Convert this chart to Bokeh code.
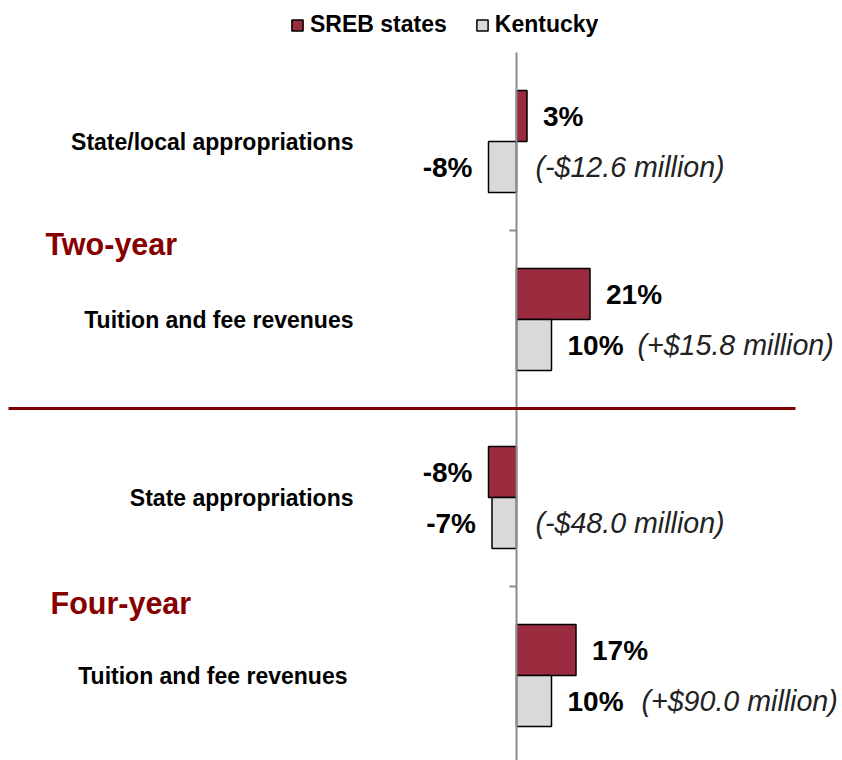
from bokeh.plotting import figure
from bokeh.models import Range1d, ColumnDataSource, Legend, LegendItem
from bokeh.core.properties import value
from bokeh.embed import file_html
from bokeh.resources import INLINE

# ---- data ----
categories = ["State/local appropriations", "Tuition and fee revenues",
              "State appropriations", "Tuition and fee revenues"]
groups = ["Two-year", "Four-year"]
group_pos = [0.5, 2.5]
sreb = [3, 21, -8, 17]
kentucky = [-8, 10, -7, 10]
sreb_labels = ["3%", "21%", "-8%", "17%"]
ky_labels = ["-8%", "10%", "-7%", "10%"]
ky_dollars = ["(-$12.6 million)", "(+$15.8 million)", "(-$48.0 million)", "(+$90.0 million)"]

FONT_NAME = "Liberation Sans"
FONT = value(FONT_NAME)
SREB_COLOR = "#9B2C3F"
KY_COLOR = "#D9D9D9"
DARK_RED = "#860000"

W, H = 842, 760
PX = 3.5          # px per percent
AX = 516          # canvas x of zero line
Y0 = 141          # canvas y of first category centre
BAND = 178        # px per category
bh = 51 / BAND    # bar thickness in category units

p = figure(width=W, height=H,
           x_range=Range1d(-AX / PX, (W - AX) / PX),
           y_range=Range1d((H - Y0) / BAND, -Y0 / BAND),
           output_backend="svg", toolbar_location=None, min_border=0)
p.axis.visible = False
p.grid.visible = False
p.outline_line_color = None
p.background_fill_color = "white"

idx = list(range(len(categories)))
ys_sreb = [i - bh / 2 for i in idx]
ys_ky = [i + bh / 2 for i in idx]

src_s = ColumnDataSource(dict(y=ys_sreb, v=sreb, lab=sreb_labels))
src_k = ColumnDataSource(dict(y=ys_ky, v=kentucky, lab=ky_labels, dol=ky_dollars))

r_s = p.hbar(y="y", left=0, right="v", height=bh, source=src_s,
             fill_color=SREB_COLOR, line_color="black", line_width=1.5)
r_k = p.hbar(y="y", left=0, right="v", height=bh, source=src_k,
             fill_color=KY_COLOR, line_color="black", line_width=1.5)

# zero axis line and ticks
p.segment(x0=[0], y0=[-0.5], x1=[0], y1=[len(categories) - 0.5],
          line_color="#8C8C8C", line_width=2)
bounds = [i + 0.5 for i in idx[:-1]]
p.segment(x0=[-2] * len(bounds), y0=bounds, x1=[0] * len(bounds), y1=bounds,
          line_color="#8C8C8C", line_width=2)

# divider between two-year and four-year
p.segment(x0=[(8 - AX) / PX], y0=[1.5], x1=[(795 - AX) / PX], y1=[1.5],
          line_color="#7F0000", line_width=3)

# category labels
lab_x = [(353 - AX) / PX, (353 - AX) / PX, (353 - AX) / PX, (347 - AX) / PX]
p.text(x=lab_x, y=idx, text=categories, text_align="right", text_baseline="middle",
       text_font=FONT, text_font_style="bold", text_font_size="23px", text_color="black")

# group labels
p.text(x=[(45 - AX) / PX, (50 - AX) / PX], y=group_pos, text=groups,
       y_offset=[13, 16], text_align="left", text_baseline="middle",
       text_font=FONT, text_font_style="bold", text_font_size="30.5px", text_color=DARK_RED)

# value labels
def add_value_labels(src_vals, ys, labs):
    pos = [(v, y, l) for v, y, l in zip(src_vals, ys, labs) if v >= 0]
    neg = [(v, y, l) for v, y, l in zip(src_vals, ys, labs) if v < 0]
    if pos:
        p.text(x=[a[0] for a in pos], y=[a[1] for a in pos], text=[a[2] for a in pos],
               x_offset=16, text_align="left", text_baseline="middle",
               text_font=FONT, text_font_style="bold", text_font_size="28px", text_color="black")
    if neg:
        p.text(x=[a[0] for a in neg], y=[a[1] for a in neg], text=[a[2] for a in neg],
               x_offset=-16, text_align="right", text_baseline="middle",
               text_font=FONT, text_font_style="bold", text_font_size="28px", text_color="black")

add_value_labels(sreb, ys_sreb, sreb_labels)
add_value_labels(kentucky, ys_ky, ky_labels)

# dollar annotations for Kentucky
dx = [max(v, 0) for v in kentucky]
doff = [19, 86, 19, 90]
p.text(x=dx, y=ys_ky, text=ky_dollars, x_offset=doff, text_align="left",
       text_baseline="middle", text_font=FONT, text_font_style="italic",
       text_font_size="28.6px", text_color="#222222")

legend = Legend(items=[LegendItem(label="SREB states", renderers=[r_s]),
                       LegendItem(label="Kentucky", renderers=[r_k])],
                location=(290, 722), orientation="horizontal",
                glyph_width=14, glyph_height=14, label_standoff=6, spacing=28,
                padding=0, margin=0, border_line_alpha=0, background_fill_alpha=0,
                label_text_font=FONT_NAME, label_text_font_style="bold",
                label_text_font_size="23px", label_text_color="black")
p.add_layout(legend, "center")

open("out.html", "w").write(file_html(p, INLINE))
